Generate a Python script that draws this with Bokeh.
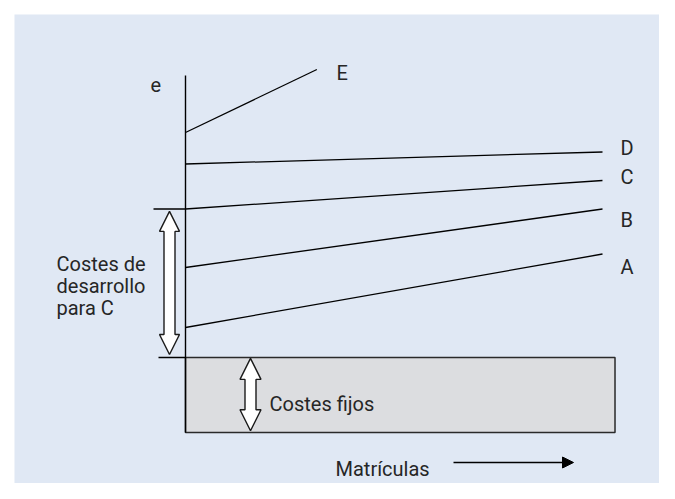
from bokeh.plotting import figure
from bokeh.models import Range1d, Arrow, NormalHead
from bokeh.core.properties import value
from bokeh.embed import file_html
from bokeh.resources import INLINE

# ---- data (schematic cost model) ----
alternatives = ["A", "B", "C", "D"]
cost_start = [35.0, 55.0, 74.5, 89.5]      # cost at zero enrolments
cost_end = [59.5, 74.5, 84.0, 93.5]        # cost at x_end
x_end = 100.0
alt_e_start = 100.0
alt_e_end = 121.0
alt_e_x_end = 31.5
fixed_cost = 25.0
axis_top = 119.0
fixed_box_x_end = 103.0
label_y = [55.3, 70.8, 85.3, 94.8]         # positions of A..D labels

FONT = value("Roboto")
TXT = "#262626"
FS = "20px"

# image pixel geometry -> data scale
PX_PER_X = 4.17
PX_PER_Y = 3.0
X0_PIX = 185
Y0_PIX = 432
W, H = 659, 483

x_lo = -X0_PIX / PX_PER_X
x_hi = (W - X0_PIX) / PX_PER_X
y_lo = -(H - Y0_PIX) / PX_PER_Y
y_hi = Y0_PIX / PX_PER_Y

def px(xp):
    return (xp - X0_PIX) / PX_PER_X

def py(yp):
    return (Y0_PIX - yp) / PX_PER_Y

p = figure(width=W, height=H, output_backend="svg", toolbar_location=None,
           x_range=Range1d(x_lo, x_hi), y_range=Range1d(y_lo, y_hi),
           min_border=0, outline_line_color=None,
           background_fill_color="white", border_fill_color="white")
p.axis.visible = False
p.grid.visible = False

# light blue panel
p.quad(left=px(14), right=x_hi, bottom=y_lo, top=py(14),
       fill_color="#E0E8F4", line_color=None)

# fixed-cost box
p.quad(left=0, right=fixed_box_x_end, bottom=0, top=fixed_cost,
       fill_color="#DCDDE0", line_color="#2a2a2a", line_width=1.5)

# vertical axis
p.segment(x0=0, y0=0, x1=0, y1=axis_top, line_color="black", line_width=1.4)

# cost lines
p.segment(x0=[0] * len(alternatives), y0=cost_start,
          x1=[x_end] * len(alternatives), y1=cost_end,
          line_color="black", line_width=1.3)
p.segment(x0=0, y0=alt_e_start, x1=alt_e_x_end, y1=alt_e_end,
          line_color="black", line_width=1.3)

# ticks at C start and fixed cost top
c_idx = alternatives.index("C")
p.segment(x0=[px(153), px(158)], y0=[cost_start[c_idx], fixed_cost],
          x1=[0, 0], y1=[cost_start[c_idx], fixed_cost],
          line_color="black", line_width=1.3)

def double_arrow(xc, ylow, yhigh, head_w, head_h, shaft_w):
    hw, sw = head_w / 2, shaft_w / 2
    xs = [xc, xc + hw, xc + sw, xc + sw, xc + hw, xc, xc - hw, xc - sw, xc - sw, xc - hw]
    ys = [yhigh, yhigh - head_h, yhigh - head_h, ylow + head_h, ylow + head_h,
          ylow, ylow + head_h, ylow + head_h, yhigh - head_h, yhigh - head_h]
    return xs, ys

# development-cost arrow (between fixed cost top and C start)
xs, ys = double_arrow(px(169), fixed_cost + 1.0, cost_start[c_idx] - 0.8,
                      20 / PX_PER_X, 20 / PX_PER_Y, 11 / PX_PER_X)
p.patch(xs, ys, fill_color="white", line_color="#1a1a1a", line_width=1.4)

# fixed-cost arrow
xs, ys = double_arrow(px(250), 0.6, fixed_cost - 0.3,
                      21 / PX_PER_X, 21 / PX_PER_Y, 11 / PX_PER_X)
p.patch(xs, ys, fill_color="white", line_color="#1a1a1a", line_width=1.4)

# labels
p.text(x=[px(620)] * len(alternatives), y=label_y, text=alternatives,
       text_font=FONT, text_font_size=FS, text_color=TXT,
       text_baseline="middle", text_align="left")
p.text(x=[px(336)], y=[py(72)], text=["E"], text_font=FONT, text_font_size=FS,
       text_color=TXT, text_baseline="middle", text_align="left")
p.text(x=[px(150)], y=[py(84)], text=["e"], text_font=FONT, text_font_size=FS,
       text_color=TXT, text_baseline="middle", text_align="left")
p.text(x=[px(56)] * 3, y=[py(263), py(285), py(307)],
       text=["Costes de", "desarrollo", "para C"],
       text_font=FONT, text_font_size=FS, text_color=TXT,
       text_baseline="alphabetic", text_align="left")
p.text(x=[px(269)], y=[py(403)], text=["Costes fijos"], text_font=FONT,
       text_font_size=FS, text_color=TXT, text_baseline="alphabetic", text_align="left")
p.text(x=[px(335)], y=[py(468)], text=["Matrículas"], text_font=FONT,
       text_font_size=FS, text_color=TXT, text_baseline="alphabetic", text_align="left")

p.add_layout(Arrow(end=NormalHead(size=11, fill_color="black", line_color="black"),
                   x_start=px(453), y_start=py(462), x_end=px(573), y_end=py(462),
                   line_color="black", line_width=1.3))

open("out.html", "w").write(file_html(p, INLINE))
